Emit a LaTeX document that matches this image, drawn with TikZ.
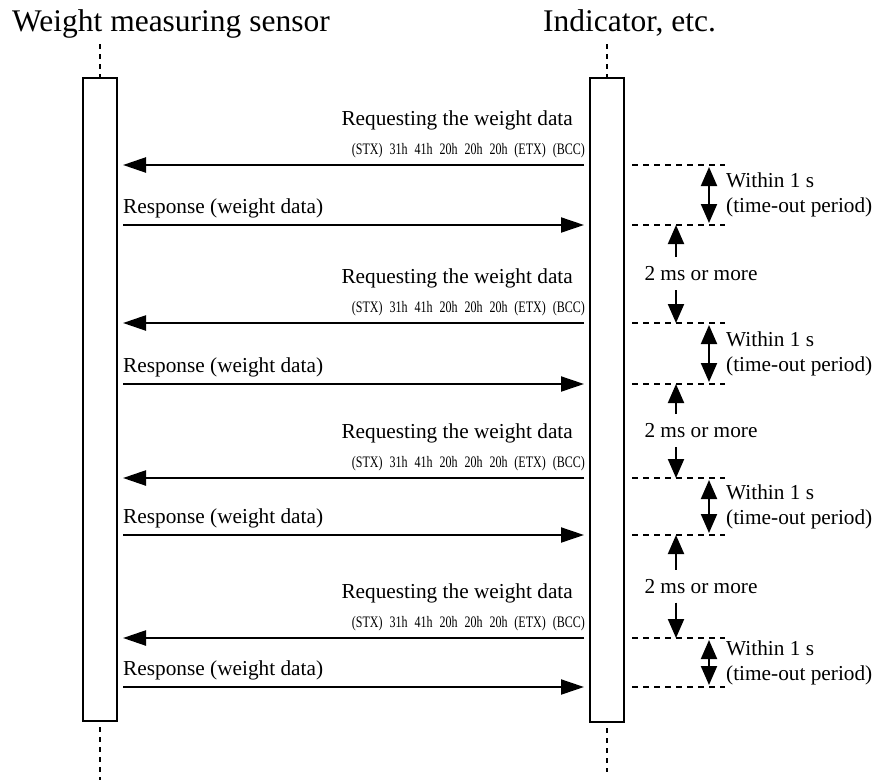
\documentclass[tikz,border=0pt]{standalone}
\usepackage{fontspec}
\setmainfont{Liberation Serif}
\usetikzlibrary{arrows.meta,calc,positioning}

\tikzset{
  titre/.style={anchor=base west,inner sep=0,font=\fontsize{31.5}{34}\selectfont},
  texte/.style={inner sep=0,font=\fontsize{21.3}{25}\selectfont},
  trame/.style={inner sep=0,font=\fontsize{16}{16}\selectfont},
  boite/.style={draw,line width=1.8pt,minimum width=34pt,inner sep=0},
  vie/.style={line width=1.8pt,dash pattern=on 5pt off 5pt},
  tiret/.style={line width=1.3pt,dash pattern=on 6pt off 5pt},
  requete/.style={->,line width=2.4pt},
  reponse/.style={->,line width=2pt},
  delai/.style={line width=2pt,>={Triangle[length=19pt,width=16pt]}},
}
\newcommand{\trou}{\hspace{9.3pt}}

\begin{document}
\begin{tikzpicture}[x=1pt,y=-1pt,>={Triangle[length=23pt,width=15pt]}]
\useasboundingbox (0,0) rectangle (878,780);
% Titres
\node[titre] (capteur) at (12,31) {Weight measuring sensor};
\node[titre] (indic) at (543,31) {Indicator, etc.};
% Barres
\node[boite,minimum height=643pt] (gauche) at (100,399.5) {};
\node[boite,minimum height=644pt] (droite) at (607,400) {};
\coordinate (gh) at (100,44);  \coordinate (gb) at (100,780);
\coordinate (dh) at (607,44);  \coordinate (db) at (607,772);
\coordinate (gs) at (100,727); \coordinate (ds) at (607,728);
\draw[vie] (gh) -- (gauche.north);
\draw[vie] (gs) -- (gb);
\draw[vie] (dh) -- (droite.north);
\draw[vie] (ds) -- (db);
% Fleches
\foreach \i/\yq/\ys in {1/165/225, 2/323/384, 3/478/535, 4/638/687}{
  \coordinate (qd\i) at (584,\yq); \coordinate (qg\i) at (123,\yq);
  \coordinate (sg\i) at (123,\ys); \coordinate (sd\i) at (584,\ys);
  \draw[requete] (qd\i) -- (qg\i);
  \draw[reponse] (sg\i) -- (sd\i);
  \node[texte,anchor=base east] (dem\i) at (573,\yq-40) {Requesting the weight data};
  \node[trame,anchor=base east] (hex\i) at (585,\yq-11)
    {\scalebox{0.75}[1]{(STX)\trou31h\trou41h\trou20h\trou20h\trou20h\trou(ETX)\trou(BCC)}};
  \node[texte,anchor=base west] (rep\i) at (123,\ys-12) {Response (weight data)};
  % Delai
  \coordinate (a\i) at (632,\yq); \coordinate (b\i) at (725,\yq);
  \coordinate (c\i) at (632,\ys); \coordinate (d\i) at (725,\ys);
  \draw[tiret] (a\i) -- (b\i);
  \draw[tiret] (c\i) -- (d\i);
  \coordinate (h\i) at (709,\yq+2); \coordinate (k\i) at (709,\ys-2);
  \draw[delai,<->] (h\i) -- (k\i);
  \node[texte,anchor=west,align=left] (dans\i) at (726,{(\yq+\ys)/2})
    {Within 1 s\\(time-out period)};
}
% Intervalles
\foreach \j/\ys/\yq in {1/225/323, 2/384/478, 3/535/638}{
  \node[texte] (ms\j) at (701,{(\ys+\yq)/2}) {2 ms or more};
  \coordinate (u\j) at (676,\ys); \coordinate (v\j) at (676,\yq);
  \coordinate (m\j) at (676,{(\ys+\yq)/2-17});
  \coordinate (n\j) at (676,{(\ys+\yq)/2+16});
  \draw[delai,->] (m\j) -- (u\j);
  \draw[delai,->] (n\j) -- (v\j);
}
\end{tikzpicture}
\end{document}
